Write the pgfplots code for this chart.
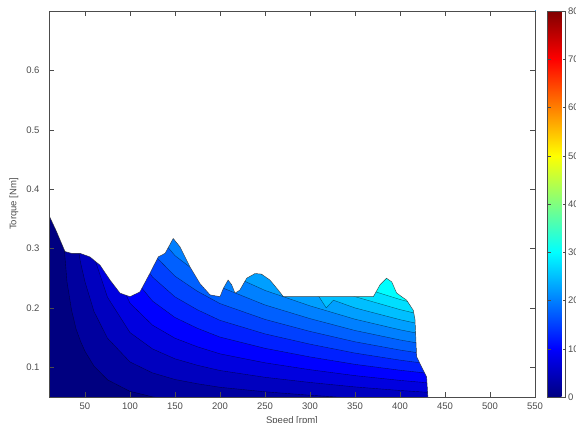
\documentclass[border=0pt]{standalone}
\usepackage{fontspec}
\setmainfont{Liberation Sans}
\usepackage{pgfplots}
\pgfplotsset{compat=1.18}
\pgfplotsset{/pgf/number format/assume math mode=true}

% jet colours of the filled bands (lower level of each band, colour scale 0--80)
\definecolor{b00}{rgb}{0,0,0.5}
\definecolor{b01}{rgb}{0,0,0.625}
\definecolor{b02}{rgb}{0,0,0.75}
\definecolor{b03}{rgb}{0,0,0.875}
\definecolor{b04}{rgb}{0,0,1}
\definecolor{b05}{rgb}{0,0.125,1}
\definecolor{b06}{rgb}{0,0.25,1}
\definecolor{b07}{rgb}{0,0.375,1}
\definecolor{b08}{rgb}{0,0.5,1}
\definecolor{b09}{rgb}{0,0.625,1}
\definecolor{b10}{rgb}{0,0.75,1}
\definecolor{b11}{rgb}{0,0.875,1}
\definecolor{b12}{rgb}{0,1,1}
\definecolor{axgray}{gray}{0.3}

\pgfplotsset{
  band/.style={fill=#1, draw=black, draw opacity=0.55, line width=0.4pt},
}

\begin{document}
\begin{tikzpicture}[font=\fontsize{9.5bp}{11bp}\selectfont]
\begin{axis}[
  at={(0,0)}, anchor=south west,
  scale only axis, width=486bp, height=386bp,
  xmin=10, xmax=550, ymin=0.05, ymax=0.7,
  xtick={50,100,...,550},
  ytick={0.1,0.2,0.3,0.4,0.5,0.6},
  yticklabel style={/pgf/number format/fixed, /pgf/number format/precision=1, xshift=-6bp},
  xticklabel style={yshift=-2bp},
  tick align=inside, major tick length=5bp, tick pos=both,
  axis line style={axgray, line width=0.5pt},
  tick style={axgray, line width=0.4pt},
  tick label style={text=axgray},
  axis on top,
  xlabel={Speed [rpm]}, ylabel={Torque [Nm]},
  xlabel style={at={(axis description cs:0.5,0)}, anchor=base, yshift=-26bp, text=axgray},
  ylabel style={at={(axis description cs:-0.072,0.5)}, anchor=center, text=axgray},
  colormap/jet, point meta min=0, point meta max=80,
  colorbar,
  colorbar style={
    at={(parent axis.north east)}, anchor=north west, xshift=4bp,
    scale only axis, width=18bp, height=386bp,
    ytick={0,10,...,80},
    tick align=inside, major tick length=3bp,
    ytick pos=both, yticklabel pos=right,
    yticklabel style={xshift=-1bp},
    axis line style={axgray, line width=0.5pt},
    tick style={axgray, line width=0.4pt},
    tick label style={text=axgray},
  },
]
% lowest band: whole plane
\addplot[fill=b00, draw=none] coordinates {(0,0) (560,0) (560,1.2) (0,1.2)} -- cycle;

% level 2.5
\addplot[band=b01] coordinates {(15,1.2) (15,0.827) (20,0.476) (25,0.337) (30,0.244) (35,0.197) (40,0.165) (45,0.144) (50,0.127) (60,0.102) (75,0.079) (100,0.0595) (125,0.0503) (150,0.0448) (175,0.041) (200,0.038) (250,0.034) (300,0.031) (350,0.029) (400,0.027) (445,0.026) (560,0.026) (560,1.2)} -- cycle;
% level 5
\addplot[band=b02] coordinates {(20,1.2) (20,0.943) (25,0.664) (30,0.477) (35,0.383) (40,0.321) (45,0.277) (50,0.244) (60,0.194) (75,0.149) (100,0.109) (125,0.0906) (150,0.0795) (175,0.0723) (200,0.0664) (250,0.0588) (300,0.053) (350,0.048) (400,0.044) (445,0.041) (560,0.041) (560,1.2)} -- cycle;
% level 7.5
\addplot[band=b03] coordinates {(25,1.2) (25,0.99) (30,0.711) (35,0.57) (40,0.476) (45,0.411) (50,0.36) (60,0.286) (75,0.218) (100,0.1585) (125,0.131) (150,0.1143) (175,0.1034) (200,0.0946) (250,0.0832) (300,0.0745) (350,0.067) (400,0.061) (430,0.058) (445,0.057) (560,0.057) (560,1.2)} -- cycle;
% level 10
\addplot[band=b04] coordinates {(30,1.2) (30,0.945) (40,0.631) (45,0.545) (50,0.477) (60,0.378) (75,0.288) (100,0.208) (125,0.171) (150,0.149) (175,0.1345) (200,0.1227) (250,0.1076) (300,0.096) (350,0.086) (400,0.078) (430,0.074) (445,0.0725) (560,0.0725) (560,1.2)} -- cycle;
% level 12.5
\addplot[band=b05] coordinates {(40,1.2) (40,0.786) (50,0.594) (60,0.47) (75,0.357) (100,0.2575) (125,0.2116) (150,0.1839) (175,0.1657) (200,0.1509) (250,0.132) (300,0.1175) (350,0.105) (400,0.0951) (430,0.0901) (445,0.088) (560,0.088) (560,1.2)} -- cycle;
% level 15
\addplot[band=b06] coordinates {(40,1.2) (40,0.942) (50,0.711) (60,0.561) (75,0.427) (100,0.307) (125,0.252) (150,0.2186) (175,0.1968) (200,0.1791) (250,0.1563) (300,0.139) (350,0.124) (400,0.1121) (430,0.1061) (445,0.1038) (560,0.1038) (560,1.2)} -- cycle;
% level 17.5
\addplot[band=b07] coordinates {(50,1.2) (50,0.828) (60,0.653) (75,0.496) (100,0.3565) (125,0.292) (150,0.2534) (175,0.228) (200,0.2073) (250,0.1807) (300,0.1605) (350,0.143) (400,0.1291) (430,0.1221) (445,0.1194) (560,0.1194) (560,1.2)} -- cycle;
% level 20
\addplot[band=b08] coordinates {(50,1.2) (50,0.945) (60,0.745) (75,0.566) (100,0.406) (125,0.3326) (150,0.288) (175,0.259) (200,0.2355) (250,0.205) (300,0.182) (350,0.162) (400,0.1461) (430,0.1381) (445,0.135) (560,0.135) (560,1.2)} -- cycle;
% level 22.5
\addplot[band=b09] coordinates {(60,1.2) (60,0.837) (75,0.635) (100,0.4555) (125,0.373) (150,0.323) (175,0.29) (200,0.2637) (250,0.2295) (300,0.2035) (350,0.181) (400,0.1632) (430,0.1541) (445,0.1506) (560,0.1506) (560,1.2)} -- cycle;
% level 25
\addplot[band=b10] coordinates {(60,1.2) (60,0.929) (75,0.704) (100,0.505) (125,0.413) (150,0.358) (175,0.321) (200,0.2918) (250,0.2539) (300,0.225) (310,0.219) (318,0.2) (326,0.213) (350,0.2) (400,0.1802) (430,0.1702) (445,0.1663) (560,0.1663) (560,1.2)} -- cycle;
% level 27.5
\addplot[band=b11] coordinates {(75,1.2) (75,0.774) (100,0.5546) (125,0.4535) (150,0.3925) (175,0.3525) (200,0.32) (250,0.2783) (300,0.2465) (350,0.219) (400,0.1972) (430,0.1862) (445,0.1819) (560,0.1819) (560,1.2)} -- cycle;
% level 30
\addplot[band=b12] coordinates {(75,1.2) (75,0.843) (100,0.604) (125,0.494) (150,0.427) (175,0.3836) (200,0.3482) (250,0.3027) (300,0.268) (350,0.238) (400,0.2142) (430,0.2023) (445,0.1975) (560,0.1975) (560,1.2)} -- cycle;

% outside the operating envelope: no data
\addplot[fill=white, draw=none] coordinates {(8,1.2) (8,0.356) (10,0.356) (18,0.33) (27.8,0.295) (35,0.292) (44.4,0.292) (55.5,0.286) (66.7,0.272) (77.8,0.247) (88.9,0.225) (100,0.219) (111,0.227) (122,0.258) (131.4,0.286) (139,0.292) (148,0.317) (155.5,0.303) (166.7,0.269) (177.8,0.241) (189,0.222) (200,0.219) (203.7,0.233) (209,0.247) (213,0.239) (216.7,0.225) (222,0.230) (229.6,0.250) (238.9,0.258) (246,0.257) (255.5,0.247) (264.8,0.230) (270.4,0.219) (370.4,0.219) (377.8,0.239) (385,0.250) (390.8,0.244) (396.3,0.225) (407.4,0.213) (414.8,0.196) (416.7,0.18) (418.5,0.118) (422,0.107) (429.6,0.084) (431,0.05) (431,0) (560,0) (560,1.2)} -- cycle;

% envelope outline
\addplot[black, draw opacity=0.7, line width=0.45pt] coordinates {(10,0.356) (18,0.33) (27.8,0.295) (35,0.292) (44.4,0.292) (55.5,0.286) (66.7,0.272) (77.8,0.247) (88.9,0.225) (100,0.219) (111,0.227) (122,0.258) (131.4,0.286) (139,0.292) (148,0.317) (155.5,0.303) (166.7,0.269) (177.8,0.241) (189,0.222) (200,0.219) (203.7,0.233) (209,0.247) (213,0.239) (216.7,0.225) (222,0.230) (229.6,0.250) (238.9,0.258) (246,0.257) (255.5,0.247) (264.8,0.230) (270.4,0.219) (370.4,0.219) (377.8,0.239) (385,0.250) (390.8,0.244) (396.3,0.225) (407.4,0.213) (414.8,0.196) (416.7,0.18) (418.5,0.118) (422,0.107) (429.6,0.084) (431,0.05)};
\end{axis}
\pgfresetboundingbox
\useasboundingbox (-49bp,-26bp) rectangle (527bp,397bp);
\end{tikzpicture}
\end{document}
